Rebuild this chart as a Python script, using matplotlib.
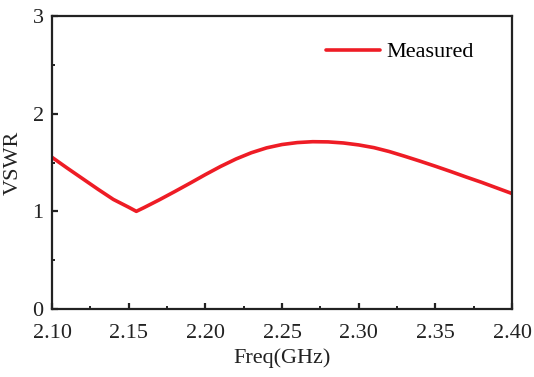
import matplotlib
matplotlib.use("Agg")
import matplotlib.pyplot as plt
from matplotlib.ticker import MultipleLocator, FormatStrFormatter

# measured VSWR
freq = [2.100, 2.110, 2.120, 2.130, 2.140, 2.150, 2.155, 2.160, 2.170, 2.180,
        2.190, 2.200, 2.210, 2.220, 2.230, 2.240, 2.250, 2.260, 2.270, 2.280,
        2.290, 2.300, 2.310, 2.320, 2.330, 2.340, 2.350, 2.360, 2.370, 2.380,
        2.390, 2.400]
vswr = [1.553, 1.442, 1.334, 1.226, 1.122, 1.042, 1.000, 1.038, 1.118, 1.202,
        1.288, 1.376, 1.460, 1.536, 1.600, 1.650, 1.684, 1.704, 1.713, 1.711,
        1.700, 1.680, 1.652, 1.612, 1.564, 1.514, 1.462, 1.408, 1.352, 1.298,
        1.240, 1.182]

plt.rcParams['font.family'] = ['Liberation Serif', 'DejaVu Serif']

fig = plt.figure(figsize=(5.34, 3.77), dpi=100)
ax = fig.add_axes([52/534, 1 - 309/377, (512-52)/534, (309-16)/377])

ax.plot(freq, vswr, color='#ee1c25', lw=2.6, label='Measured', solid_capstyle='round')

ax.xaxis.set_major_locator(MultipleLocator(0.05))
ax.xaxis.set_minor_locator(MultipleLocator(0.025))
ax.xaxis.set_major_formatter(FormatStrFormatter('%.2f'))
ax.yaxis.set_major_locator(MultipleLocator(1))
ax.yaxis.set_minor_locator(MultipleLocator(0.5))
ax.set_xlim(2.10, 2.40)
ax.set_ylim(0, 3)

for s in ax.spines.values():
    s.set_linewidth(1.6)
    s.set_color('#222222')
ax.tick_params(which='major', direction='in', length=4, width=1.6, labelsize=16,
               colors='#222222', top=False, right=False)
ax.tick_params(axis='x', which='major', pad=10.5)
ax.tick_params(axis='y', which='major', pad=6)
ax.tick_params(which='minor', direction='in', length=2.5, width=1.4,
               colors='#222222', top=False, right=False)

ax.set_xlabel('Freq(GHz)', fontsize=16, color='#222222', labelpad=4)
ax.set_ylabel('VSWR', fontsize=16, color='#222222', labelpad=7)

ax.legend(loc='upper right', bbox_to_anchor=(0.96, 0.98), frameon=False, fontsize=16,
          handlelength=2.4, handletextpad=0.3)

fig.savefig('out.png', dpi=100)
